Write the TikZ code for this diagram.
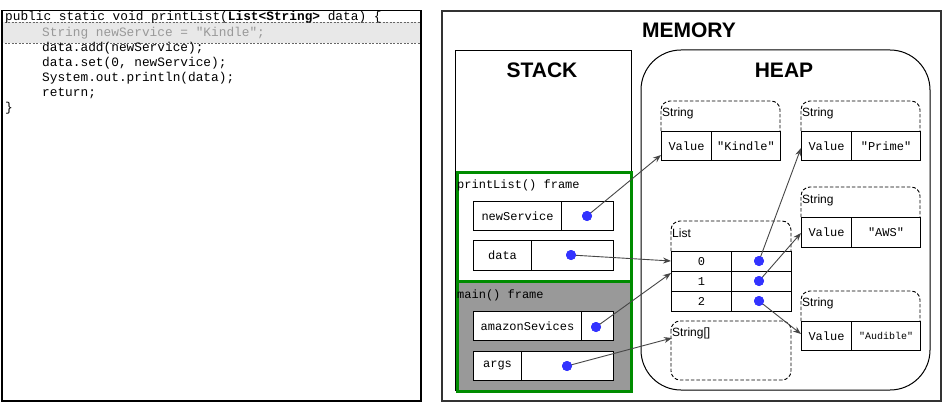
\documentclass[tikz,border=0pt]{standalone}
\usepackage{fontspec}
\setmainfont{Liberation Sans}
\newfontfamily\monof{Liberation Mono}
\usetikzlibrary{arrows.meta}
\definecolor{frgreen}{RGB}{0,140,0}
\definecolor{dotblue}{RGB}{51,51,255}
\definecolor{framegray}{RGB}{153,153,153}
\definecolor{arrgray}{RGB}{70,70,70}
\definecolor{bandgray}{RGB}{232,232,232}
\tikzset{
  codeline/.style={anchor=west,inner sep=0pt,font=\monof\fontsize{12.8}{14}\selectfont},
  title/.style={font=\bfseries\fontsize{21}{24}\selectfont,inner sep=0pt},
  framelbl/.style={anchor=west,inner sep=0pt,font=\monof\fontsize{12}{14}\selectfont},
  objlbl/.style={anchor=west,inner sep=0pt,font=\fontsize{12}{14}\selectfont},
  cell/.style={draw=black,line width=1pt,fill=white,anchor=north west,inner sep=0pt,font=\monof\fontsize{12}{14}\selectfont},
  dot/.style={circle,fill=dotblue,minimum size=10pt,inner sep=0pt},
  ref/.style={draw=arrgray,line width=0.9pt,-{Stealth[length=8pt,width=6pt]}},
  dashbox/.style={draw=black,line width=0.9pt,dash pattern=on 3.5pt off 2pt,rounded corners=9pt},
  greenframe/.style={draw=frgreen,line width=3pt}
}
\begin{document}
\begin{tikzpicture}[x=1pt,y=-1pt]
\useasboundingbox (0,0) rectangle (942,409);
% ---------- code panel ----------
\fill[bandgray] (1,22) rectangle (420,43);
\draw[black!60,line width=0.8pt,dash pattern=on 2pt off 1.5pt] (1,22) -- (420,22) (1,43) -- (420,43);
\node[draw=black,line width=1.5pt,anchor=north west,minimum width=419pt,minimum height=390pt,inner sep=0pt] (code) at (1,10) {};
\node[codeline] (l1) at (5,17) {public static void printList(\textbf{List<String>} data) \{};
\node[codeline,text=black!40] (l2) at (42,33) {String newService = "Kindle";};
\node[codeline] (l3) at (42,48) {data.add(newService);};
\node[codeline] (l4) at (42,63) {data.set(0, newService);};
\node[codeline] (l5) at (42,78) {System.out.println(data);};
\node[codeline] (l6) at (42,93) {return;};
\node[codeline] (l7) at (5,108) {\}};
% ---------- memory ----------
\node[draw=black!80,line width=2pt,anchor=north west,minimum width=499pt,minimum height=390pt,inner sep=0pt] (mem) at (441,10) {};
\node[title] (memt) at (689,30) {MEMORY};
% stack
\node[draw=black,line width=1pt,anchor=north west,minimum width=176pt,minimum height=340pt,inner sep=0pt] (stack) at (455,50) {};
\node[title] (stackt) at (542,70) {STACK};
% heap
\draw[line width=1pt,rounded corners=40pt] (641,50) rectangle (930,390);
\node[title] (heapt) at (784,70) {HEAP};
% frames
\node[greenframe,fill=white,anchor=north west,minimum width=174pt,minimum height=109pt,inner sep=0pt] (pframe) at (456,171) {};
\node[greenframe,fill=framegray,anchor=north west,minimum width=174pt,minimum height=110pt,inner sep=0pt] (mframe) at (456,280) {};
\node[framelbl] (pl) at (457,185) {printList() frame};
\node[framelbl] (ml) at (457,295) {main() frame};
% stack variables
\node[cell,minimum width=88pt,minimum height=29pt] (nsn) at (473,201) {newService};
\node[cell,minimum width=52pt,minimum height=29pt] (nsv) at (561,201) {};
\node[cell,minimum width=58pt,minimum height=30pt] (dn) at (473,240) {data};
\node[cell,minimum width=82pt,minimum height=30pt] (dv) at (531,240) {};
\node[cell,minimum width=108pt,minimum height=29pt] (an) at (473,311) {amazonSevices};
\node[cell,minimum width=32pt,minimum height=29pt] (av) at (581,311) {};
\node[cell,minimum width=48pt,minimum height=29pt] (gn) at (473,351) {args};
\node[cell,minimum width=92pt,minimum height=29pt] (gv) at (521,351) {};
% ---------- heap objects ----------
% String Kindle
\draw[dashbox] (661,131) -- (661,101) -- (780,101) -- (780,131);
\node[objlbl] (sk) at (662,113) {String};
\node[cell,minimum width=50pt,minimum height=29pt] (kn) at (661,131) {Value};
\node[cell,minimum width=69pt,minimum height=29pt] (kv) at (711,131) {"Kindle"};
% String Prime
\draw[dashbox] (801,131) -- (801,101) -- (920,101) -- (920,131);
\node[objlbl] (sp) at (802,113) {String};
\node[cell,minimum width=50pt,minimum height=29pt] (pn) at (801,131) {Value};
\node[cell,minimum width=69pt,minimum height=29pt] (pv) at (851,131) {"Prime"};
% String AWS
\draw[dashbox] (801,217) -- (801,187) -- (920,187) -- (920,217);
\node[objlbl] (sa) at (802,200) {String};
\node[cell,minimum width=50pt,minimum height=30pt] (wn) at (801,217) {Value};
\node[cell,minimum width=69pt,minimum height=30pt] (wv) at (851,217) {"AWS"};
% String Audible
\draw[dashbox] (801,321) -- (801,291) -- (920,291) -- (920,321);
\node[objlbl] (sd) at (802,303) {String};
\node[cell,minimum width=50pt,minimum height=29pt] (un) at (801,321) {Value};
\node[cell,minimum width=69pt,minimum height=29pt,font=\monof\fontsize{10}{12}\selectfont] (uv) at (851,321) {"Audible"};
% List
\draw[dashbox] (671,251) -- (671,221) -- (791,221) -- (791,251);
\node[objlbl] (ll) at (672,233) {List};
\node[cell,minimum width=60pt,minimum height=20pt] (r0n) at (671,251) {0};
\node[cell,minimum width=60pt,minimum height=20pt] (r0v) at (731,251) {};
\node[cell,minimum width=60pt,minimum height=20pt] (r1n) at (671,271) {1};
\node[cell,minimum width=60pt,minimum height=20pt] (r1v) at (731,271) {};
\node[cell,minimum width=60pt,minimum height=20pt] (r2n) at (671,291) {2};
\node[cell,minimum width=60pt,minimum height=20pt] (r2v) at (731,291) {};
% String[]
\draw[dashbox] (671,321) rectangle (791,380);
\node[objlbl] (sarr) at (672,333) {String[]};
\coordinate (sarrin) at (672,338);
% ---------- dots ----------
\node[dot] (dns) at (587,216) {};
\node[dot] (dd) at (571,255) {};
\node[dot] (da) at (596,327) {};
\node[dot] (dg) at (567,366) {};
\node[dot] (d0) at (759,261) {};
\node[dot] (d1) at (759,281) {};
\node[dot] (d2) at (759,301) {};
% ---------- arrow targets ----------
\coordinate (tk) at (661,155);
\coordinate (tr0) at (671,261);
\coordinate (tr1) at (671,273);
\coordinate (tp) at (801,148);
\coordinate (tw) at (801,233);
\coordinate (tu) at (801,334);
% ---------- references ----------
\draw[ref] (dns.center) -- (tk);
\draw[ref] (dd.center) -- (tr0);
\draw[ref] (da.center) -- (tr1);
\draw[ref] (dg.center) -- (sarrin);
\draw[ref] (d0.center) -- (tp);
\draw[ref] (d1.center) -- (tw);
\draw[ref] (d2.center) -- (tu);
% redraw dots on top
\foreach \n in {dns,dd,da,dg,d0,d1,d2} { \fill[dotblue] (\n) circle (5pt); }
\end{tikzpicture}
\end{document}
